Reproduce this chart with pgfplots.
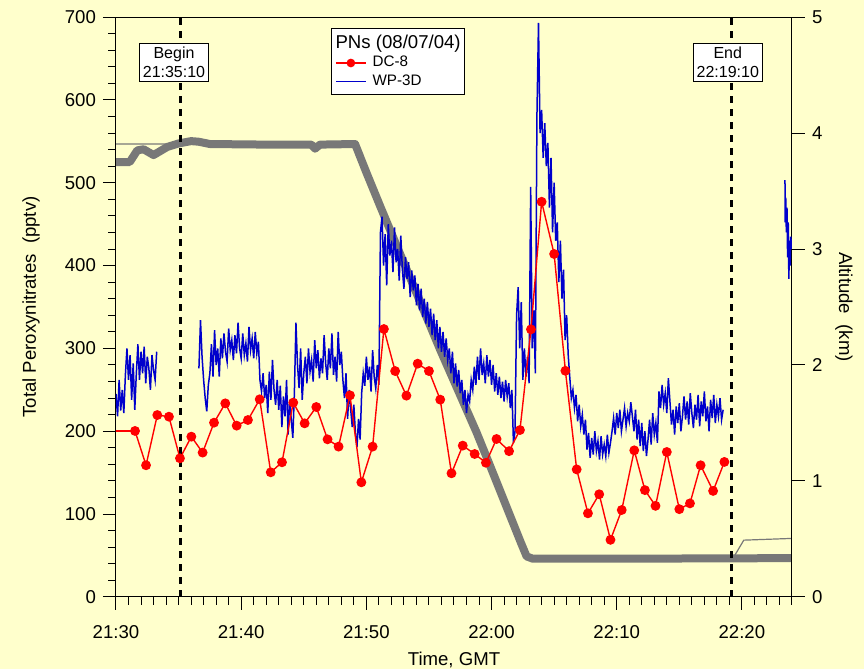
\documentclass[border=0pt]{standalone}
\usepackage{fontspec}
\setmainfont{Liberation Sans}
\usepackage{pgfplots}
\pgfplotsset{compat=1.18}
\usepackage{pgfplotstable}
\definecolor{bgy}{RGB}{255,255,204}
\definecolor{pnblue}{RGB}{0,0,204}
\definecolor{altgray}{RGB}{120,120,120}

\pgfplotstableread{
t v
0.000 245
0.125 218
0.250 262
0.375 225
0.500 250
0.625 222
0.750 268
0.875 300
1.000 262
1.125 292
1.250 238
1.375 282
1.500 226
1.625 270
1.750 305
1.875 262
2.000 296
2.125 270
2.250 302
2.375 258
2.500 290
2.625 276
2.750 250
2.875 292
3.000 274
3.125 262
3.250 296
3.300 nan
6.625 276
6.750 334
6.875 290
7.000 262
7.125 240
7.250 224
7.375 256
7.500 270
7.625 305
7.750 266
7.875 322
8.000 280
8.125 300
8.250 266
8.375 312
8.500 288
8.625 318
8.750 296
8.875 284
9.000 324
9.125 298
9.250 310
9.375 286
9.500 316
9.625 294
9.750 331
9.875 300
10.000 288
10.125 318
10.250 292
10.375 306
10.500 284
10.625 326
10.750 298
10.875 312
11.000 288
11.125 320
11.250 294
11.375 308
11.500 262
11.625 248
11.750 270
11.875 240
12.000 256
12.125 222
12.250 272
12.375 238
12.500 286
12.625 250
12.750 232
12.875 262
13.000 226
13.125 255
13.250 205
13.375 242
13.500 218
13.625 262
13.750 196
13.875 238
14.000 214
14.125 192
14.250 246
14.375 331
14.500 280
14.625 252
14.750 300
14.875 238
15.000 270
15.125 290
15.250 258
15.375 300
15.500 272
15.625 286
15.750 260
15.875 310
16.000 276
16.125 298
16.250 264
16.375 288
16.500 270
16.625 316
16.750 282
16.875 262
17.000 300
17.125 276
17.250 318
17.375 268
17.500 290
17.625 260
17.750 320
17.875 280
18.000 296
18.125 262
18.250 240
18.375 270
18.500 215
18.625 250
18.750 226
18.875 205
19.000 232
19.125 198
19.250 181
19.375 215
19.500 190
19.625 246
19.750 270
19.875 255
20.000 290
20.125 262
20.250 278
20.375 248
20.500 298
20.625 266
20.750 252
20.875 280
21.000 256
21.125 440
21.250 459
21.375 400
21.500 438
21.625 376
21.750 450
21.875 412
22.000 430
22.125 392
22.250 446
22.375 404
22.500 420
22.625 382
22.750 436
22.875 396
23.000 372
23.125 410
23.250 384
23.375 404
23.500 362
23.625 394
23.750 370
23.875 388
24.000 352
24.125 378
24.250 346
24.375 372
24.500 338
24.625 360
24.750 330
24.875 356
25.000 326
25.125 348
25.250 316
25.375 342
25.500 310
25.625 334
25.750 300
25.875 326
26.000 296
26.125 320
26.250 290
26.375 312
26.500 286
26.625 300
26.750 270
26.875 296
27.000 258
27.125 282
27.250 254
27.375 274
27.500 246
27.625 262
27.750 232
27.875 250
28.000 222
28.125 244
28.250 236
28.375 262
28.500 250
28.625 278
28.750 256
28.875 290
29.000 262
29.125 300
29.250 268
29.375 282
29.500 258
29.625 292
29.750 266
29.875 286
30.000 256
30.125 280
30.250 248
30.375 270
30.500 244
30.625 266
30.750 240
30.875 260
31.000 236
31.125 262
31.250 242
31.375 258
31.500 228
31.625 250
31.750 186
31.875 200
32.000 340
32.125 374
32.250 300
32.375 356
32.500 262
32.625 300
32.750 266
32.875 290
33.000 258
33.125 495
33.250 300
33.375 346
33.500 270
33.625 580
33.750 693
33.875 560
34.000 588
34.125 530
34.250 572
34.375 520
34.500 548
34.625 470
34.750 530
34.875 440
35.000 500
35.125 430
35.250 452
35.375 380
35.500 430
35.625 360
35.750 395
35.875 310
36.000 340
36.125 292
36.250 265
36.375 240
36.500 250
36.625 228
36.750 244
36.875 212
37.000 232
37.125 206
37.250 220
37.375 196
37.500 214
37.625 178
37.750 198
37.875 168
38.000 192
38.125 172
38.250 200
38.375 176
38.500 188
38.625 166
38.750 194
38.875 172
39.000 184
39.125 170
39.250 196
39.375 174
39.500 186
39.625 200
39.750 216
39.875 196
40.000 222
40.125 204
40.250 226
40.375 200
40.500 214
40.625 228
40.750 206
40.875 222
41.000 212
41.125 235
41.250 218
41.375 200
41.500 226
41.625 190
41.750 214
41.875 182
42.000 210
42.125 176
42.250 200
42.375 170
42.500 190
42.625 214
42.750 184
42.875 222
43.000 196
43.125 210
43.250 186
43.375 248
43.500 228
43.625 256
43.750 232
43.875 246
44.000 222
44.125 264
44.250 236
44.375 208
44.500 226
44.625 196
44.750 230
44.875 210
45.000 234
45.125 200
45.250 218
45.375 242
45.500 214
45.625 236
45.750 208
45.875 246
46.000 222
46.125 204
46.250 232
46.375 214
46.500 244
46.625 206
46.750 236
46.875 218
47.000 248
47.125 212
47.250 230
47.375 200
47.500 238
47.625 216
47.750 244
47.875 210
48.000 232
48.125 218
48.250 240
48.375 214
48.500 226
48.600 nan
53.440 503
53.460 452
53.500 482
53.550 440
53.600 470
53.650 410
53.700 452
53.750 384
53.800 430
53.850 400
53.900 435
54.000 420
}\wpdata

\pgfplotstableread{
t v
1.52 200.4
2.40 159
3.30 219.6
4.23 217.6
5.11 167.4
6.02 193.5
6.92 174.3
7.83 210.4
8.73 233.7
9.64 206.8
10.54 213.6
11.48 238.6
12.36 150.5
13.26 162.6
14.16 234.6
15.07 209.6
16.00 229.3
16.90 190.3
17.78 181.5
18.69 243.4
19.60 138.4
20.50 181.5
21.40 323.4
22.30 272.7
23.20 243
24.10 281.6
25.00 272.7
25.90 238.2
26.80 149.3
27.70 182.7
28.65 172.6
29.55 162
30.40 190.7
31.40 176
32.27 201.5
33.15 323
34.00 477
35.00 414
35.90 273
36.80 154
37.70 101
38.60 124
39.50 69
40.40 105
41.40 177
42.25 129
43.10 110
44.00 175
45.00 106
45.85 113
46.70 159
47.70 128
48.60 163
}\dcdata

\pgfplotstableread{
t a
0 3.75
1.1 3.75
1.7 3.85
2.2 3.86
3.0 3.81
4.1 3.88
5.0 3.91
6.0 3.93
6.6 3.925
7.5 3.905
12 3.9
15.6 3.9
15.9 3.865
16.3 3.9
19.1 3.905
20.0 3.66
21.1 3.37
23.5 2.75
25.9 2.13
28.8 1.42
30.0 1.10
32.3 0.48
32.8 0.35
33.3 0.33
40 0.33
54 0.335
}\altthick

\pgfplotstableread{
t a
0 3.905
5.3 3.905
6.0 3.93
6.6 3.925
7.5 3.905
12 3.9
19.1 3.905
20.0 3.66
21.1 3.37
23.5 2.75
25.9 2.13
28.8 1.42
30.0 1.10
32.3 0.48
32.8 0.35
33.3 0.33
49.27 0.33
50.15 0.49
54 0.505
}\altthin

\begin{document}
\begin{tikzpicture}
\fill[bgy] (-58pt,-36pt) rectangle (374pt,298.5pt);
\useasboundingbox (-58pt,-36pt) rectangle (374pt,298.5pt);

\begin{axis}[
  scale only axis, width=338pt, height=290pt,
  xmin=0, xmax=54, ymin=0, ymax=5,
  axis x line=none, axis y line*=right,
  ytick={0,1,2,3,4,5},
  tick align=outside, major tick length=6.5pt,
  axis line style={line width=0.5pt}, every tick/.style={black, line width=0.5pt},
  /pgf/number format/assume math mode=true,
  ticklabel style={font=\fontsize{9.3}{11}\selectfont},
  ylabel={Altitude~~(km)},
  ylabel style={font=\fontsize{9.3}{11}\selectfont, at={(axis description cs:1.0769,0.5)}, anchor=center, rotate=180},
]
\addplot[altgray, line width=4pt, line join=round] table[x=t, y=a] {\altthick};
\addplot[altgray, line width=0.6pt] table[x=t, y=a] {\altthin};
\end{axis}

\begin{axis}[
  scale only axis, width=338pt, height=290pt,
  xmin=0, xmax=54, ymin=0, ymax=700,
  xtick={0,10,20,30,40,50},
  xticklabels={21:30,21:40,21:50,22:00,22:10,22:20},
  minor xtick={1,2,...,54},
  ytick={0,100,...,700},
  minor ytick={20,40,...,680},
  xtick pos=bottom, ytick pos=left,
  tick align=outside, major tick length=6.5pt, minor tick length=3.8pt,
  axis line style={line width=0.5pt}, every tick/.style={black, line width=0.5pt},
  /pgf/number format/assume math mode=true,
  ticklabel style={font=\fontsize{9.3}{11}\selectfont},
  xticklabel style={yshift=-4pt},
  xlabel={Time, GMT},
  ylabel={Total Peroxynitrates~~(pptv)},
  xlabel style={font=\fontsize{9.3}{11}\selectfont, at={(axis description cs:0.5,-0.1086)}, anchor=center},
  ylabel style={font=\fontsize{9.3}{11}\selectfont, at={(axis description cs:-0.1257,0.5)}, anchor=center},
  unbounded coords=jump,
  legend image code/.code={\draw[mark repeat=2,mark phase=2] plot coordinates {(0pt,0pt) (7.5pt,0pt) (15pt,0pt)};},
  legend style={at={(rel axis cs:0.3176,0.981)}, anchor=north west, draw=black, fill=white,
    line width=0.5pt, inner xsep=2pt, inner ysep=2pt, row sep=0.6pt,
    font=\fontsize{7.6}{9}\selectfont,
    nodes={inner xsep=3pt, inner ysep=1pt}},
  legend cell align=left,
]
\addplot[pnblue, line width=0.75pt, forget plot] table[x=t, y=v] {\wpdata};
\addplot[red, line width=0.7pt, forget plot] coordinates {(-0.5,200.4) (1.52,200.4)};
\addplot[red, line width=0.7pt, mark=*, mark size=2.1pt, forget plot] table[x=t, y=v] {\dcdata};
\addplot[black, line width=1.2pt, dash pattern=on 3.5pt off 3pt, forget plot] coordinates {(5.1667,0) (5.1667,700)};
\addplot[black, line width=1.2pt, dash pattern=on 3.5pt off 3pt, forget plot] coordinates {(49.1667,0) (49.1667,700)};

\addlegendimage{empty legend}
\addlegendentry{\makebox[0pt][l]{\hspace*{-18.5pt}\fontsize{9.3}{11}\selectfont PNs (08/07/04)}\hspace*{41pt}}
\addlegendimage{red, line width=0.7pt, mark=*, mark size=1.8pt}
\addlegendentry{DC-8}
\addlegendimage{pnblue, line width=0.6pt}
\addlegendentry{WP-3D}

\node[draw=black, fill=white, line width=0.5pt, align=center, inner xsep=1.8pt, inner ysep=1.8pt,
  font=\fontsize{8}{9.6}\selectfont] at (rel axis cs:0.0858,0.922) {Begin\\21:35:10};
\node[draw=black, fill=white, line width=0.5pt, align=center, inner xsep=1.8pt, inner ysep=1.8pt,
  font=\fontsize{8}{9.6}\selectfont] at (rel axis cs:0.905,0.9216) {End\\22:19:10};
\end{axis}
\end{tikzpicture}
\end{document}
